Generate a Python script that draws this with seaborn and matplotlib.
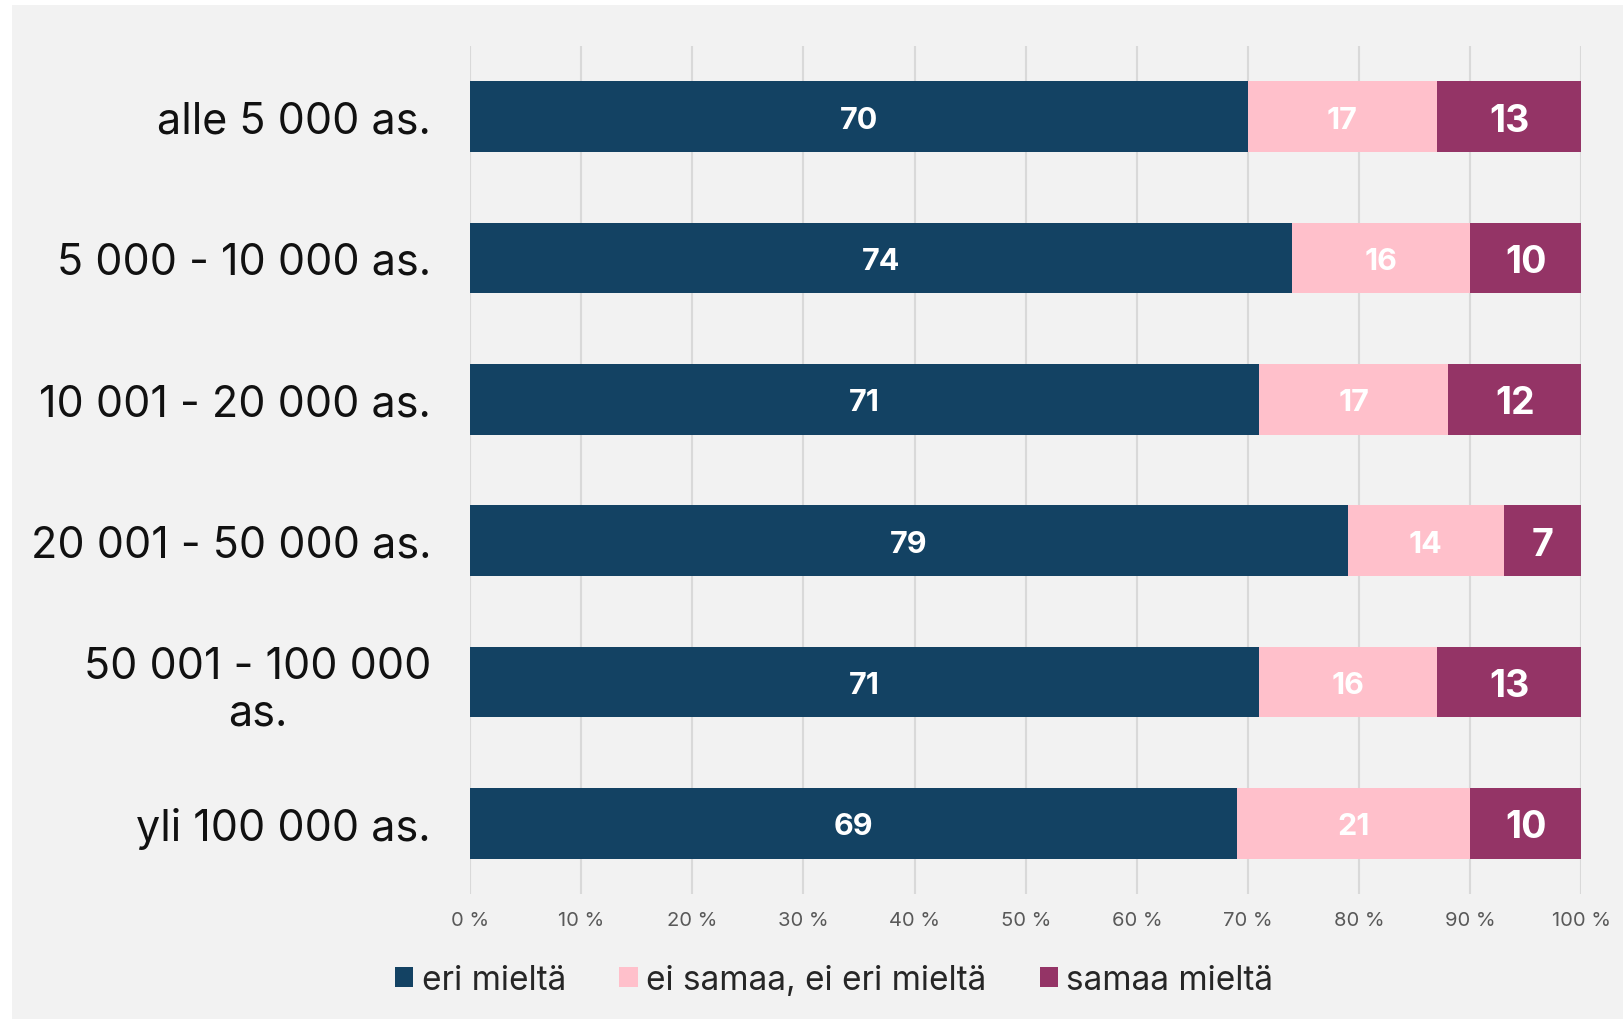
import matplotlib
matplotlib.use("Agg")
import matplotlib.pyplot as plt
from matplotlib.patches import Rectangle
import numpy as np
import pandas as pd
import seaborn as sns

# data
kategoriat = ["alle 5 000 as.", "5 000 - 10 000 as.", "10 001 - 20 000 as.",
              "20 001 - 50 000 as.", "50 001 - 100 000\nas.", "yli 100 000 as."]
eri_mielta = [70, 74, 71, 79, 71, 69]
ei_samaa_ei_eri = [17, 16, 17, 14, 16, 21]
samaa_mielta = [13, 10, 12, 7, 13, 10]
sarjat = ["eri mieltä", "ei samaa, ei eri mieltä", "samaa mieltä"]
varit = ["#134263", "#ffc0cb", "#943466"]
x_ticks = [0, 10, 20, 30, 40, 50, 60, 70, 80, 90, 100]

df = pd.DataFrame({"kategoria": kategoriat, "eri": eri_mielta,
                   "ei": ei_samaa_ei_eri, "samaa": samaa_mielta})
df["kum1"] = df["eri"]
df["kum2"] = df["eri"] + df["ei"]
df["kum3"] = df["eri"] + df["ei"] + df["samaa"]

sns.set_theme(style="white")
plt.rcParams["font.family"] = ["Inter", "DejaVu Sans"]

fig = plt.figure(figsize=(16.24, 10.2), dpi=100, facecolor="white")
fig.patches.append(Rectangle((12 / 1624, 0), 1, 1 - 6 / 1020, transform=fig.transFigure,
                             facecolor="#f2f2f2", edgecolor="none", zorder=-10))
ax = fig.add_axes([0.2894, 0.1225, 0.6844, 0.8315])
ax.set_facecolor("#f2f2f2")

# pinotut palkit: kumulatiiviset summat takaa eteen
for col, color in zip(["kum3", "kum2", "kum1"], varit[::-1]):
    sns.barplot(data=df, x=col, y="kategoria", color=color, width=0.5,
                saturation=1, orient="h", ax=ax, edgecolor="none", zorder=3)

# arvot palkkien sisään
for i in range(len(kategoriat)):
    starts = [0, eri_mielta[i], eri_mielta[i] + ei_samaa_ei_eri[i]]
    vals = [eri_mielta[i], ei_samaa_ei_eri[i], samaa_mielta[i]]
    sizes = [22, 22, 27]
    for s, v, fs in zip(starts, vals, sizes):
        ax.text(s + v / 2, i, str(v), ha="center", va="center_baseline", color="white",
                fontsize=fs, fontweight="bold", zorder=5)

ax.set_xlim(0, 100)
ax.set_ylim(len(kategoriat) - 0.5, -0.5)
ax.set_xticks(x_ticks)
ax.set_xticklabels([f"{t} %" for t in x_ticks], color="#595959", fontsize=14.5)
ax.tick_params(axis="x", length=0, pad=12)
ax.tick_params(axis="y", length=0, pad=28)
for lab in ax.get_yticklabels():
    lab.set_fontsize(31)
    lab.set_color("#111111")
    lab.set_multialignment("center")
ax.set_xlabel("")
ax.set_ylabel("")
ax.grid(axis="x", color="#d9d9d9", linewidth=1.5, zorder=0)
ax.set_axisbelow(True)
for sp in ax.spines.values():
    sp.set_visible(False)

handles = [Rectangle((0, 0), 1, 1, facecolor=c, edgecolor="none") for c in varit]
fig.legend(handles, sarjat, loc="center", bbox_to_anchor=(0.5136, 0.038), ncol=3,
           frameon=False, fontsize=24, handlelength=0.55, handleheight=0.55,
           handletextpad=0.25, columnspacing=1.6)

fig.savefig("out.png", dpi=100, facecolor=fig.get_facecolor())
